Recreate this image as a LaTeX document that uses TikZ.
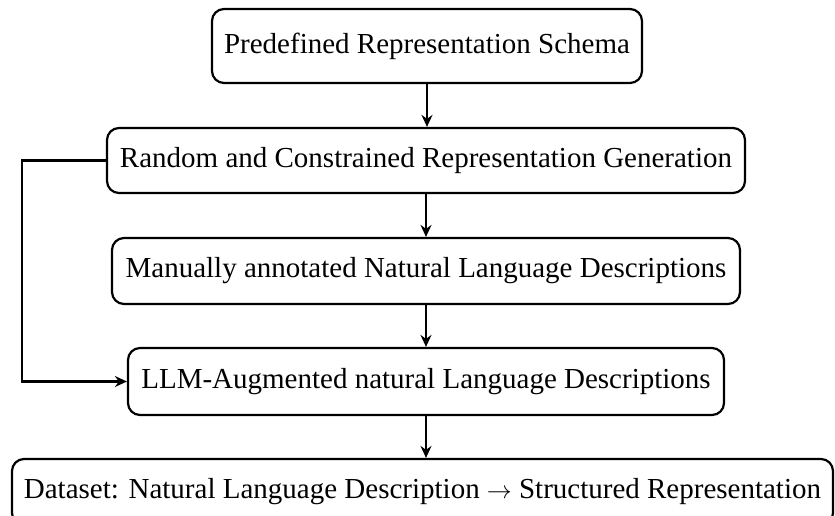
\documentclass[tikz,border=0pt]{standalone}
\usepackage{fontspec}
\setmainfont{Liberation Serif}
\usetikzlibrary{arrows.meta}
\begin{document}
\begin{tikzpicture}[x=1pt,y=-1pt,
  box/.style={draw, line width=2.2pt, rounded corners=12pt, inner sep=0pt, align=center,
    font=\fontsize{29}{34}\selectfont},
  flow/.style={line width=2.2pt, -{Stealth[length=12pt,width=11pt,inset=4pt]}}]
\useasboundingbox (0,0) rectangle (835,515);
\node[box, minimum width=430pt, minimum height=74pt] (p1) at (427,46) {Predefined Representation Schema};
\node[box, minimum width=638pt, minimum height=65pt] (p2) at (426,160.5) {Random and Constrained Representation Generation};
\node[box, minimum width=628pt, minimum height=66pt] (p3) at (426,271) {Manually annotated Natural Language Descriptions};
\node[box, minimum width=596pt, minimum height=67pt] (p4) at (426,381.5) {LLM-Augmented natural Language Descriptions};
\node[box, minimum width=821pt, minimum height=66pt] (p5) at (422.5,492) {Dataset: Natural Language Description $\rightarrow$ Structured Representation};
\coordinate (c1) at (22,160.5);
\draw[flow] (p1.south) -- (p1.south |- p2.north);
\draw[flow] (p2.south) -- (p2.south |- p3.north);
\draw[flow] (p3.south) -- (p3.south |- p4.north);
\draw[flow] (p4.south) -- (p4.south |- p5.north);
\draw[flow] (p2.west) -- (c1) |- (p4.west);
\end{tikzpicture}
\end{document}
